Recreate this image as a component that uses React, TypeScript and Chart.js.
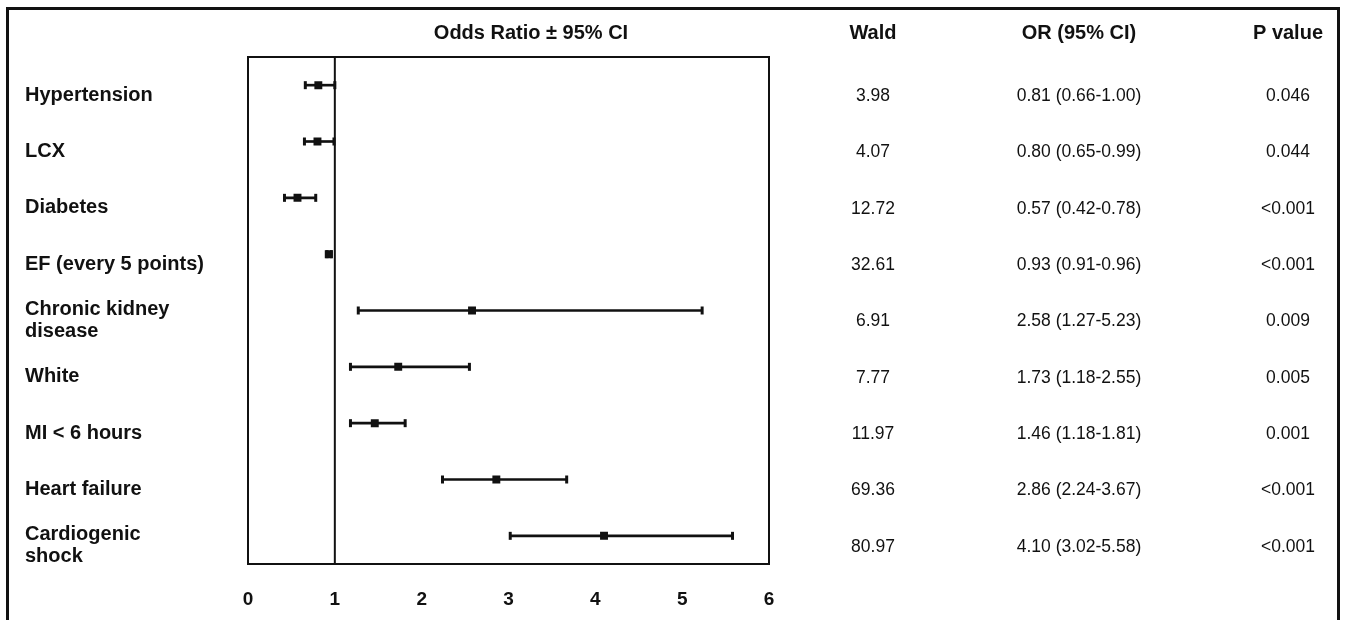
import React, { useEffect, useRef } from "react";
import { Chart, registerables } from "chart.js";

Chart.register(...registerables);

// ---- data ----
const categories: (string | string[])[] = [
  "Hypertension",
  "LCX",
  "Diabetes",
  "EF (every 5 points)",
  ["Chronic kidney", "disease"],
  "White",
  "MI < 6 hours",
  "Heart failure",
  ["Cardiogenic", "shock"],
];
const oddsRatios = [0.81, 0.8, 0.57, 0.93, 2.58, 1.73, 1.46, 2.86, 4.1];
const ciLower = [0.66, 0.65, 0.42, 0.91, 1.27, 1.18, 1.18, 2.24, 3.02];
const ciUpper = [1.0, 0.99, 0.78, 0.96, 5.23, 2.55, 1.81, 3.67, 5.58];
const waldValues = ["3.98", "4.07", "12.72", "32.61", "6.91", "7.77", "11.97", "69.36", "80.97"];
const pValues = ["0.046", "0.044", "<0.001", "<0.001", "0.009", "0.005", "0.001", "<0.001", "<0.001"];
const xTickValues = [0, 1, 2, 3, 4, 5, 6];
const referenceValue = 1;
const plotTitle = "Odds Ratio \u00b1 95% CI";
const tableHeaders = ["Wald", "OR (95% CI)", "P value"];

const FONT = '"Liberation Sans", Arial, Helvetica, sans-serif';
const INK = "#111";

const forestPlugin = {
  id: "forestDecor",
  beforeDatasetsDraw(chart: any) {
    const { ctx, chartArea: a, scales } = chart;
    ctx.save();
    ctx.strokeStyle = INK;
    ctx.lineWidth = 2;
    ctx.strokeRect(a.left, a.top, a.right - a.left, a.bottom - a.top);
    const xr = scales.x.getPixelForValue(referenceValue);
    ctx.beginPath();
    ctx.moveTo(xr, a.top);
    ctx.lineTo(xr, a.bottom);
    ctx.stroke();
    ctx.restore();
  },
  afterDraw(chart: any) {
    const { ctx, scales } = chart;
    ctx.save();
    ctx.fillStyle = INK;
    ctx.textAlign = "center";
    ctx.textBaseline = "middle";
    ctx.font = `bold 20px ${FONT}`;
    const headerY = 33;
    ctx.fillText(plotTitle, 531, headerY);
    const cols = [873, 1079, 1288];
    tableHeaders.forEach((h, i) => ctx.fillText(h, cols[i], headerY));
    ctx.font = `17.5px ${FONT}`;
    oddsRatios.forEach((or, i) => {
      const y = scales.y.getPixelForValue(i) + 11;
      ctx.fillText(waldValues[i], cols[0], y);
      ctx.fillText(
        `${or.toFixed(2)} (${ciLower[i].toFixed(2)}-${ciUpper[i].toFixed(2)})`,
        cols[1],
        y
      );
      ctx.fillText(pValues[i], cols[2], y);
    });
    ctx.restore();
  },
};

export default function App() {
  const canvasRef = useRef<HTMLCanvasElement | null>(null);

  useEffect(() => {
    document.body.style.overflow = "hidden";
    const canvas = canvasRef.current;
    if (!canvas) return;
    const chart = new Chart(canvas, {
      type: "bar",
      data: {
        labels: categories as any,
        datasets: [
          {
            type: "line",
            label: "OR",
            data: oddsRatios.map((v, i) => ({ x: v, y: i })),
            showLine: false,
            pointStyle: "rect",
            pointRadius: 5.6,
            pointHoverRadius: 5.6,
            pointBackgroundColor: INK,
            pointBorderWidth: 0,
            order: 0,
          } as any,
          {
            type: "line",
            label: "lower",
            data: ciLower.map((v, i) => ({ x: v, y: i })),
            showLine: false,
            pointStyle: "line",
            rotation: 90,
            pointRadius: 4,
            pointBorderWidth: 3,
            pointBorderColor: INK,
            order: 1,
          } as any,
          {
            type: "line",
            label: "upper",
            data: ciUpper.map((v, i) => ({ x: v, y: i })),
            showLine: false,
            pointStyle: "line",
            rotation: 90,
            pointRadius: 4,
            pointBorderWidth: 3,
            pointBorderColor: INK,
            order: 1,
          } as any,
          {
            type: "bar",
            label: "CI",
            data: ciLower.map((lo, i) => [lo, ciUpper[i]]),
            backgroundColor: INK,
            borderWidth: 0,
            barThickness: 2,
            order: 2,
          } as any,
        ],
      },
      options: {
        indexAxis: "y",
        animation: false,
        responsive: true,
        maintainAspectRatio: false,
        events: [],
        layout: { padding: { left: 25, top: 57, right: 576, bottom: 0 } },
        plugins: {
          legend: { display: false },
          tooltip: { enabled: false },
          title: { display: false },
        },
        scales: {
          x: {
            type: "linear",
            min: 0,
            max: 6,
            grid: { display: false },
            border: { display: false },
            afterBuildTicks: (scale: any) => {
              scale.ticks = xTickValues.map((v) => ({ value: v }));
            },
            afterFit: (scale: any) => {
              scale.height = 56;
            },
            ticks: {
              color: INK,
              padding: 16,
              maxRotation: 0,
              font: { family: FONT, size: 19, weight: "bold" },
            },
          },
          y: {
            type: "category",
            offset: true,
            grid: { display: false },
            border: { display: false },
            afterFit: (scale: any) => {
              scale.width = 223;
            },
            ticks: {
              color: INK,
              crossAlign: "far",
              labelOffset: 10,
              autoSkip: false,
              font: { family: FONT, size: 20, weight: "bold", lineHeight: 1.1 },
            },
          },
        },
      } as any,
      plugins: [forestPlugin],
    });
    return () => chart.destroy();
  }, []);

  return (
    <>
      <div
        style={{
          position: "absolute",
          left: 0,
          top: 0,
          width: 1345,
          height: 620,
          background: "#fff",
        }}
      >
        <canvas ref={canvasRef} />
      </div>
      <div
        style={{
          position: "absolute",
          left: 6,
          top: 7,
          width: 1334,
          height: 613,
          boxSizing: "border-box",
          borderTop: "3px solid #111",
          borderLeft: "3px solid #111",
          borderRight: "3px solid #111",
          pointerEvents: "none",
        }}
      />
    </>
  );
}
